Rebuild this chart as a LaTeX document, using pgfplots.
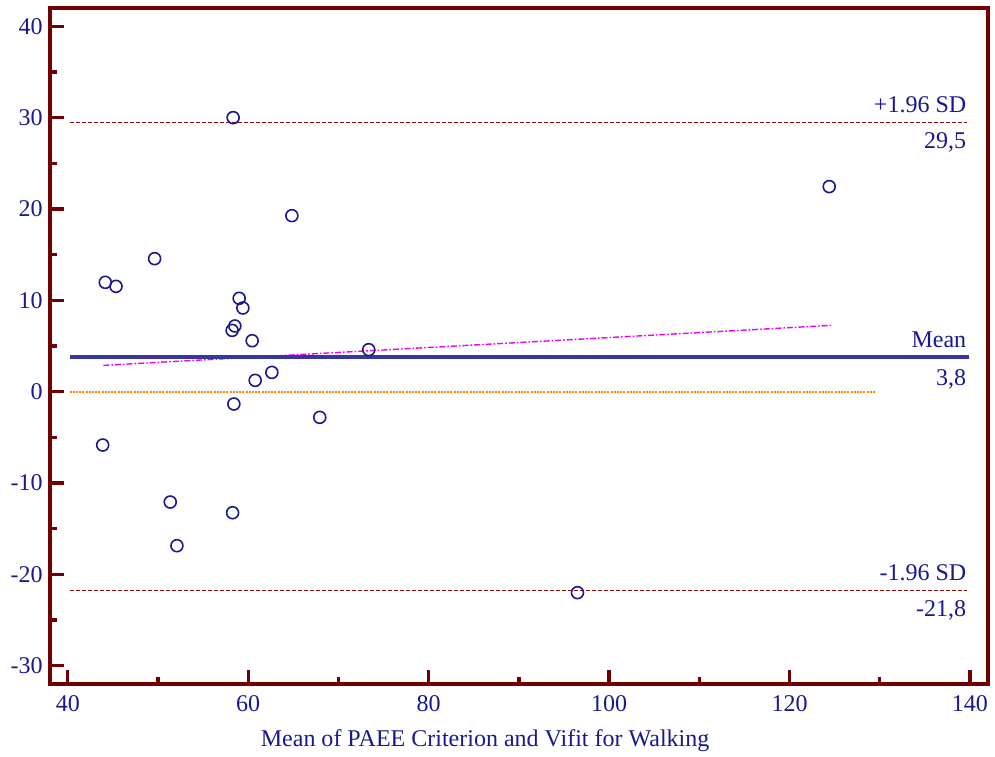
\documentclass[border=0pt]{standalone}
\usepackage{fontspec}
\setmainfont{Liberation Serif}
\usepackage{pgfplots}
\pgfplotsset{compat=1.18}
\definecolor{frame}{RGB}{115,0,0}
\definecolor{navy}{RGB}{25,25,140}
\definecolor{meanblue}{RGB}{55,55,155}
\definecolor{sdred}{RGB}{140,10,10}
\definecolor{zeroorange}{RGB}{255,130,0}
\definecolor{regmag}{RGB}{240,0,240}

\begin{document}
\begin{tikzpicture}
\useasboundingbox (-24.85pt,-36.15pt) rectangle (472.5pt,341.9pt);
\begin{axis}[
  scale only axis,
  width=469pt, height=337.9pt,
  xmin=38, xmax=142, ymin=-32, ymax=42,
  axis line style={frame, line width=2pt},
  xtick={40,60,...,140}, minor xtick={50,70,...,130},
  ytick={-30,-20,...,40}, minor ytick={-25,-15,...,35},
  xtick pos=bottom, ytick pos=left,
  tick align=inside,
  major tick length=7pt, minor tick length=3.5pt,
  every tick/.style={frame, line width=1.7pt},
  /pgf/number format/assume math mode=true,
  tick label style={font=\fontsize{12}{14}\selectfont, text=navy},
  xticklabel style={yshift=-2pt},
  xlabel={Mean of PAEE Criterion and Vifit for Walking},
  xlabel style={font=\fontsize{12}{14}\selectfont, text=navy,
    at={(axis description cs:0.464,0)}, anchor=center, yshift=-28.5pt},
  clip=false,
]
% limits of agreement
\addplot[sdred, line width=0.5pt, dash pattern=on 2pt off 1pt]
  coordinates {(40.25,29.5)(139.7,29.5)};
\addplot[sdred, line width=0.5pt, dash pattern=on 2pt off 1pt]
  coordinates {(40.25,-21.8)(139.7,-21.8)};
% zero line
\addplot[zeroorange, line width=0.9pt, dash pattern=on 1pt off 0.6pt]
  coordinates {(40.2,0)(129.6,0)};
% regression line
\addplot[regmag, line width=0.7pt, dash pattern=on 3pt off 1pt on 0.8pt off 1pt]
  coordinates {(43.94,2.88)(124.6,7.26)};
% mean difference
\addplot[meanblue, line width=1.7pt]
  coordinates {(40.2,3.8)(139.9,3.8)};
% observations
\addplot[only marks, mark=o, mark size=3pt, navy, mark options={line width=0.8pt}]
  coordinates {
  (58.33,30.0)(124.4,22.45)(64.84,19.27)(49.63,14.56)(44.16,11.97)
  (45.35,11.53)(59.0,10.22)(59.41,9.16)(58.52,7.19)(58.22,6.71)
  (60.44,5.58)(73.36,4.60)(62.62,2.11)(60.77,1.24)(58.41,-1.35)
  (67.93,-2.81)(43.87,-5.84)(51.36,-12.08)(58.27,-13.25)(52.10,-16.86)
  (96.5,-22.0)};
% line labels
\begin{scope}[every node/.style={font=\fontsize{12}{14}\selectfont, text=navy, inner sep=0pt, anchor=base east}]
\node[yshift=5pt] at (axis cs:139.63,29.5) {+1.96 SD};
\node[yshift=-13.3pt] at (axis cs:139.63,29.5) {29,5};
\node[yshift=4.7pt] at (axis cs:139.63,3.8) {Mean};
\node[yshift=-14.2pt] at (axis cs:139.63,3.8) {3,8};
\node[yshift=5pt] at (axis cs:139.63,-21.8) {-1.96 SD};
\node[yshift=-12.7pt] at (axis cs:139.63,-21.8) {-21,8};
\end{scope}
\end{axis}
\end{tikzpicture}
\end{document}
